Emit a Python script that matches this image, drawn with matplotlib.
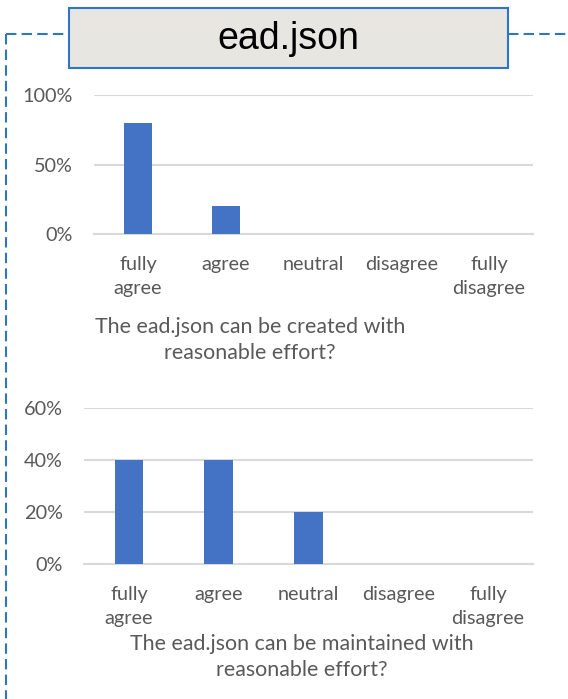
import numpy as np
import matplotlib.pyplot as plt
from matplotlib.lines import Line2D
from matplotlib.patches import Rectangle

categories = ['fully\nagree', 'agree', 'neutral', 'disagree', 'fully\ndisagree']
created = [0.80, 0.20, 0.0, 0.0, 0.0]
maintained = [0.40, 0.40, 0.20, 0.0, 0.0]
title = 'ead.json'
q_created = 'The ead.json can be created with\nreasonable effort?'
q_maintained = 'The ead.json can be maintained with\nreasonable effort?'

bar_color = '#4472C4'
grid_color = '#D9D9D9'
text_color = '#595959'
frame_color = '#2E75C6'

plt.rcParams['font.family'] = ['Lato', 'DejaVu Sans']

fig = plt.figure(figsize=(5.68, 6.99), dpi=100)


def draw_panel(ax, values, ymax, step):
    x = np.arange(len(categories))
    ax.bar(x, values, width=0.32, color=bar_color, zorder=3)
    ax.set_xlim(-0.5, len(categories) - 0.5)
    ax.set_ylim(0, ymax)
    ticks = np.arange(0, ymax + step / 2, step)
    ax.set_yticks(ticks)
    ax.set_yticklabels([f'{int(round(t * 100))}%' for t in ticks])
    ax.set_xticks(x)
    ax.set_xticklabels(categories, linespacing=1.5)
    ax.grid(axis='y', color=grid_color, linewidth=1.5, zorder=0)
    for s in ['top', 'right', 'left']:
        ax.spines[s].set_visible(False)
    ax.spines['bottom'].set_color(grid_color)
    ax.spines['bottom'].set_linewidth(1.5)
    ax.tick_params(axis='both', length=0, colors=text_color, labelsize=14.3)
    ax.tick_params(axis='x', pad=15.5)
    ax.tick_params(axis='y', pad=15)


ax1 = fig.add_axes([94 / 568, 1 - 234 / 699, 439 / 568, 139 / 699])
draw_panel(ax1, created, 1.0, 0.5)

ax2 = fig.add_axes([84 / 568, 1 - 564 / 699, 449 / 568, 156 / 699])
draw_panel(ax2, maintained, 0.6, 0.2)

fig.text(250 / 568, 1 - 340 / 699, q_created, ha='center', va='center',
         fontsize=15.4, color=text_color, linespacing=1.35)
fig.text(302 / 568, 1 - 657 / 699, q_maintained, ha='center', va='center',
         fontsize=15.4, color=text_color, linespacing=1.35)

# dashed frame around the group
dash = dict(color=frame_color, linewidth=1.5, linestyle=(0, (5, 2.5)))
fig.add_artist(Line2D([6 / 568, 6 / 568], [1 - 34 / 699, 0], transform=fig.transFigure, **dash))
fig.add_artist(Line2D([6 / 568, 69 / 568], [1 - 34 / 699, 1 - 34 / 699], transform=fig.transFigure, **dash))
fig.add_artist(Line2D([508 / 568, 1], [1 - 34 / 699, 1 - 34 / 699], transform=fig.transFigure, **dash))

# title box
fig.add_artist(Rectangle((69 / 568, 1 - 68 / 699), 439 / 568, 60 / 699, transform=fig.transFigure,
                         facecolor='#E7E6E0', edgecolor=frame_color, linewidth=1.5))
fig.text(288.5 / 568, 1 - 39 / 699, title, ha='center', va='center',
         fontsize=27, family=['Liberation Sans', 'DejaVu Sans'], color='black')

fig.savefig('out.png', dpi=100)
